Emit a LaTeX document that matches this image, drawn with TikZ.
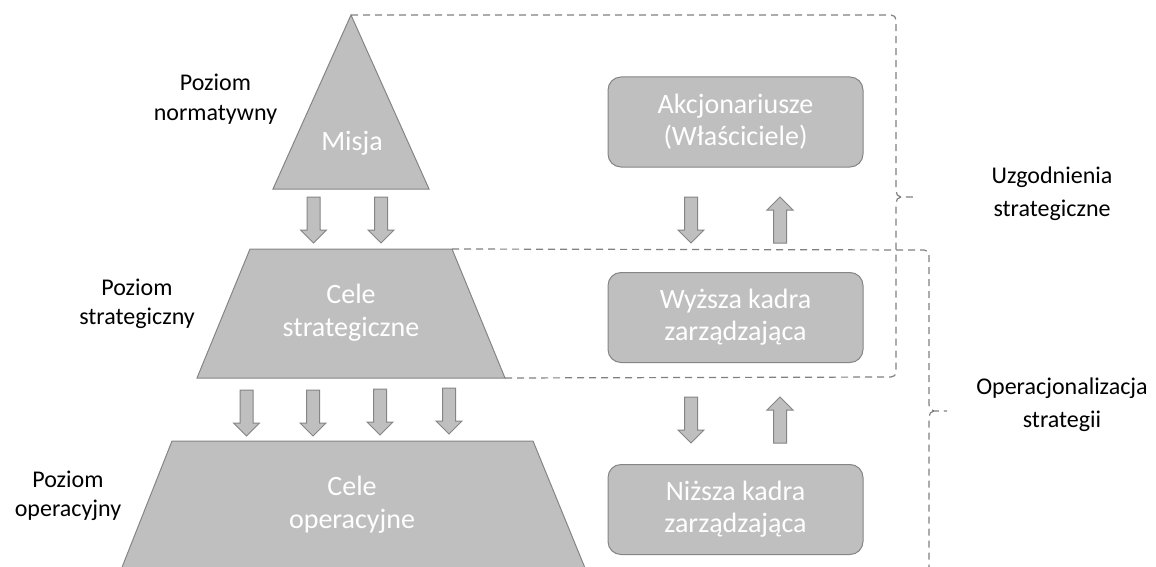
\documentclass[tikz,border=0pt]{standalone}
\usepackage{fontspec}
\setmainfont{Carlito}
\definecolor{shapegray}{HTML}{BFBFBF}
\definecolor{edgegray}{HTML}{858585}
\definecolor{dashgray}{HTML}{808080}
\begin{document}
\begin{tikzpicture}[x=1pt,y=-1pt,
  shapefill/.style={fill=shapegray, draw=edgegray, line width=1pt, line join=miter},
  bracket/.style={draw=dashgray, line width=1.2pt, dash pattern=on 7pt off 5pt},
  intext/.style={text=white, font=\fontsize{28}{33}\selectfont, align=center, inner sep=0pt},
  sidelabel/.style={text=black, font=\fontsize{24}{29.5}\selectfont, align=center, inner sep=0pt},
  bracelabel/.style={text=black, font=\fontsize{24}{33}\selectfont, align=center, inner sep=0pt},
  rolebox/.style={shapefill, rounded corners=13pt, minimum width=255pt, minimum height=90pt,
    inner sep=0pt, text=white, font=\fontsize{28}{32}\selectfont, align=center},
  downblock/.pic={\draw[shapefill] (-6.5,0) -- (6.5,0) -- (6.5,33) -- (13,33) -- (0,46)
    -- (-13,33) -- (-6.5,33) -- cycle;},
  upblock/.pic={\draw[shapefill] (-6.5,0) -- (6.5,0) -- (6.5,-33) -- (13,-33) -- (0,-46)
    -- (-13,-33) -- (-6.5,-33) -- cycle;}
]
\useasboundingbox (0,0) rectangle (1156,567);
\clip (0,0) rectangle (1156,567);

% corner points of the pyramid
\coordinate (apex) at (351,15);
\coordinate (misbl) at (273,189);
\coordinate (misbr) at (429,189);
\coordinate (sttl) at (250,249);
\coordinate (sttr) at (452,249);
\coordinate (stbl) at (197,378);
\coordinate (stbr) at (505,378);
\coordinate (optl) at (172,441);
\coordinate (optr) at (533,441);
\coordinate (opbl) at (113,590);
\coordinate (opbr) at (594,590);

% pyramid levels
\draw[shapefill] (apex) -- (misbr) -- (misbl) -- cycle;
\draw[shapefill] (sttl) -- (sttr) -- (stbr) -- (stbl) -- cycle;
\draw[shapefill] (optl) -- (optr) -- (opbr) -- (opbl) -- cycle;

\node[intext] (misja) at (352,143) {Misja};
\node[intext] (celestr) at (351,313) {Cele\\strategiczne};
\node[intext] (celeop) at (352,505) {Cele\\operacyjne};

% level labels
\node[sidelabel] (lnorm) at (215.5,99) {Poziom\\normatywny};
\node[sidelabel] (lstr) at (137,304) {Poziom\\strategiczny};
\node[sidelabel] (lop) at (68,496) {Poziom\\operacyjny};

% flow arrows inside the pyramid
\pic at (313.5,197) {downblock};
\pic at (381,197) {downblock};
\pic at (246.5,390) {downblock};
\pic at (313,390) {downblock};
\pic at (380,389) {downblock};
\pic at (449,388) {downblock};

% management chain
\node[rolebox] (akc) at (735.5,122) {Akcjonariusze\\(Właściciele)};
\node[rolebox] (wyz) at (735.5,317.5) {Wyższa kadra\\zarządzająca};
\node[rolebox] (niz) at (735.5,509.5) {Niższa kadra\\zarządzająca};

\pic at (691,197) {downblock};
\pic at (780,243) {upblock};
\pic at (691,397) {downblock};
\pic at (780,443) {upblock};

% brace grouping the normative and strategic levels
\draw[bracket] (apex) -- (891,15) .. controls (894,15) and (896,17) .. (896,20)
  -- (896,191) .. controls (896,194) and (898,197) .. (901,197) -- (915,197);
\draw[bracket] (901,197) .. controls (898,197) and (896,200) .. (896,203)
  -- (896,372) .. controls (896,375) and (894,377) .. (891,377) -- (stbr);

% brace grouping the strategic and operational levels
\draw[bracket] (sttr) -- (924,250) .. controls (927,250) and (929,252) .. (929,255)
  -- (929,405) .. controls (929,408) and (931,411) .. (934,411) -- (947,411);
\draw[bracket] (934,411) .. controls (931,411) and (929,414) .. (929,417) -- (929,580);

\node[bracelabel] (uzg) at (1052,194) {Uzgodnienia\\strategiczne};
\node[bracelabel] (oper) at (1062,405) {Operacjonalizacja\\strategii};
\end{tikzpicture}
\end{document}
